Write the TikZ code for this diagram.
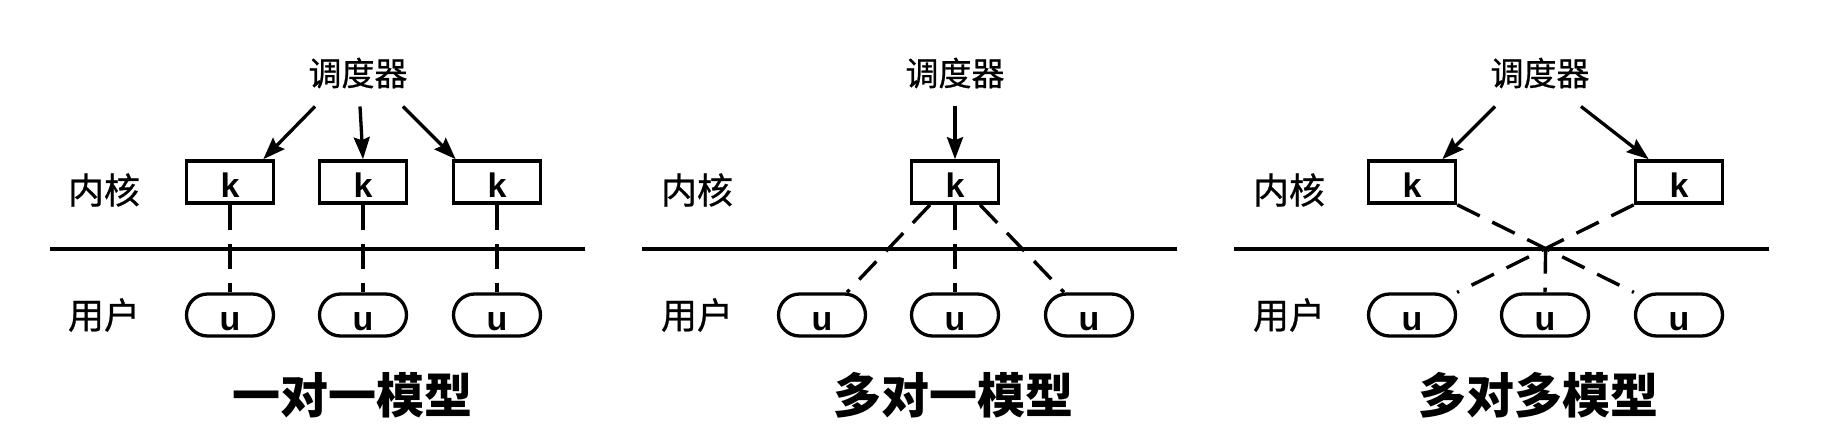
\documentclass[tikz,border=0pt]{standalone}
\usepackage{fontspec}
\setmainfont{Liberation Sans}
\newfontfamily\cjk[FakeBold=0.7]{Noto Sans CJK SC}
\newfontfamily\cjkbold{Noto Sans CJK SC}
\usetikzlibrary{arrows.meta}

\begin{document}
\begin{tikzpicture}[x=1pt,y=-1pt]
\tikzstyle{kbox}=[draw,line width=3.6pt,minimum width=87pt,minimum height=42pt,inner sep=0pt,text height=30pt,text depth=0pt,font=\fontsize{34}{34}\selectfont\bfseries]
\tikzstyle{ubox}=[kbox,rounded corners=21pt,line width=3.3pt]
\tikzstyle{lbl}=[inner sep=0pt,font=\cjk\fontsize{36}{36}\selectfont]
\tikzstyle{sched}=[inner sep=0pt,font=\cjk\fontsize{33}{33}\selectfont]
\tikzstyle{ttl}=[inner sep=0pt,font=\cjkbold\bfseries\fontsize{48}{48}\selectfont]
\tikzstyle{sep}=[line width=3.6pt]
\tikzstyle{dsh}=[line width=3.4pt,dash pattern=on 25pt off 14pt]
\tikzstyle{arr}=[line width=3.3pt,-{Stealth[length=22pt,width=16pt,inset=3pt]}]
\useasboundingbox (0,0) rectangle (1838,440);

% one to one
\node[sched] (S1) at (358,73) {调度器};
\node[lbl] (L11) at (104,190) {内核};
\node[lbl] (L12) at (104,315) {用户};
\node[kbox] (K11) at (230,182) {k};
\node[kbox] (K12) at (363,182) {k};
\node[kbox] (K13) at (497,182) {k};
\node[ubox] (U11) at (230,315) {u};
\node[ubox] (U12) at (363,315) {u};
\node[ubox] (U13) at (497,315) {u};
\draw[arr] ([xshift=-43pt,yshift=-18pt]S1.south) -- ([xshift=-12pt]K11.north east);
\draw[arr] ([xshift=2pt,yshift=-18pt]S1.south) -- (K12.north);
\draw[arr] ([xshift=45pt,yshift=-18pt]S1.south) -- ([xshift=4pt]K13.north west);
\draw[sep] (50,249) -- (585,249);
\draw[dsh] (K11) -- (U11);
\draw[dsh] (K12) -- (U12);
\draw[dsh] (K13) -- (U13);
\node[ttl] (T1) at (352,395) {一对一模型};

% many to one
\node[sched] (S2) at (955,73) {调度器};
\node[lbl] (L21) at (697,190) {内核};
\node[lbl] (L22) at (697,315) {用户};
\node[kbox] (K21) at (955,182) {k};
\node[ubox] (U21) at (822,315) {u};
\node[ubox] (U22) at (955,315) {u};
\node[ubox] (U23) at (1089,315) {u};
\draw[arr] ([yshift=-18pt]S2.south) -- (K21.north);
\draw[sep] (642,249) -- (1177,249);
\draw[dsh] ([xshift=-25pt]K21.south) -- ([xshift=25pt]U21.north);
\draw[dsh] (K21) -- (U22);
\draw[dsh] ([xshift=25pt]K21.south) -- ([xshift=-25pt]U23.north);
\node[ttl] (T2) at (953,395) {多对一模型};

% many to many
\node[sched] (S3) at (1540,73) {调度器};
\node[lbl] (L31) at (1289,190) {内核};
\node[lbl] (L32) at (1289,315) {用户};
\node[kbox] (K31) at (1412,182) {k};
\node[kbox] (K32) at (1679,182) {k};
\node[ubox] (U31) at (1412,315) {u};
\node[ubox] (U32) at (1545,315) {u};
\node[ubox] (U33) at (1679,315) {u};
\draw[arr] ([xshift=-45pt,yshift=-18pt]S3.south) -- ([xshift=-15pt]K31.north east);
\draw[arr] ([xshift=41pt,yshift=-18pt]S3.south) -- ([xshift=15pt]K32.north west);
\draw[sep] (1234,249) -- (1769,249);
\draw[dsh] (K31.south east) -- (U33.north west);
\draw[dsh] (K32.south west) -- (U31.north east);
\coordinate (X3) at (intersection of K31.south east--U33.north west and K32.south west--U31.north east);
\draw[dsh] (X3) -- (U32.north);
\node[ttl] (T3) at (1538,395) {多对多模型};
\end{tikzpicture}
\end{document}
